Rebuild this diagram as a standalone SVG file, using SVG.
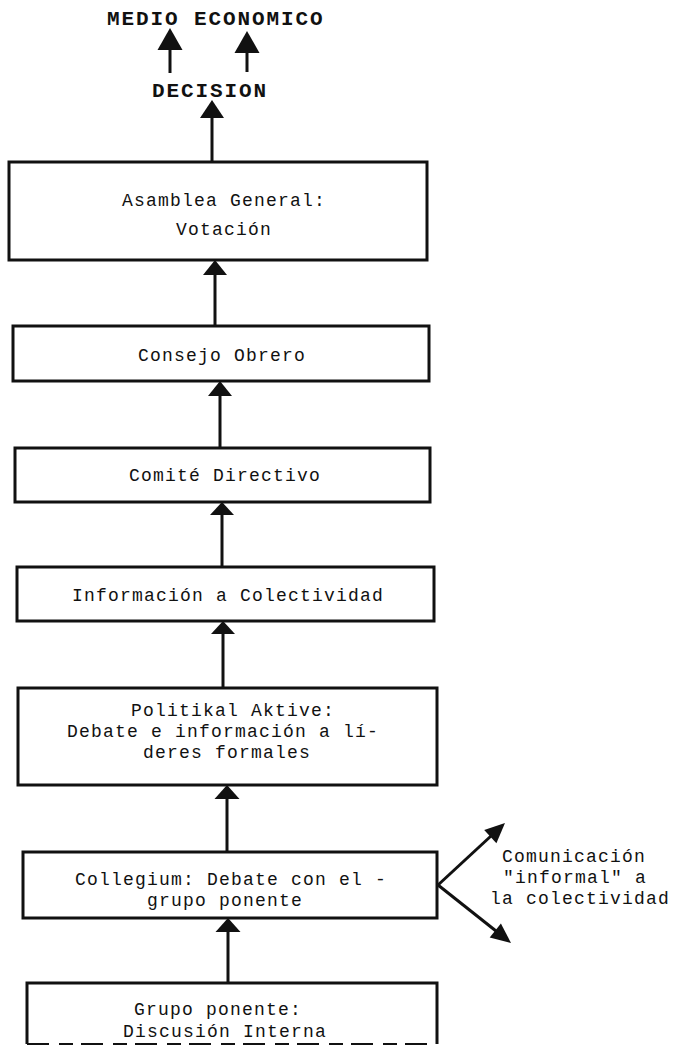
<svg xmlns="http://www.w3.org/2000/svg" width="675" height="1047" viewBox="0 0 675 1047">
<defs>
<style>
.box{fill:none;stroke:#111;stroke-width:3}
.t{font-family:"Liberation Mono","DejaVu Sans Mono",monospace;font-size:18px;letter-spacing:1.2px;fill:#111}
.m{text-anchor:middle}
.b{font-weight:bold;font-size:21px;letter-spacing:1.9px}
.sh{stroke:#111;stroke-width:3;fill:none}
.hd{fill:#111;stroke:none}
</style>
</defs>
<rect width="675" height="1047" fill="#fff"/>
<g id="medio"><text class="t b" x="107" y="25">MEDIO ECONOMICO</text></g>
<g id="decision"><text class="t b" x="152" y="97">DECISION</text></g>
<g id="asamblea">
<rect class="box" x="9" y="162" width="418" height="98"/>
<text class="t m" x="224" y="206">Asamblea General:</text>
<text class="t m" x="224" y="235">Votación</text>
</g>
<g id="consejo">
<rect class="box" x="13" y="326" width="416" height="55"/>
<text class="t m" x="222" y="361">Consejo Obrero</text>
</g>
<g id="comite">
<rect class="box" x="15" y="448" width="415" height="54"/>
<text class="t m" x="225" y="481">Comité Directivo</text>
</g>
<g id="informacion">
<rect class="box" x="17" y="567" width="417" height="54"/>
<text class="t m" x="228" y="601">Información a Colectividad</text>
</g>
<g id="politikal">
<rect class="box" x="18" y="688" width="419" height="97"/>
<text class="t m" x="233" y="716">Politikal Aktive:</text>
<text class="t m" x="223" y="737">Debate e información a lí-</text>
<text class="t m" x="227" y="758">deres formales</text>
</g>
<g id="collegium">
<rect class="box" x="23" y="852" width="414" height="66"/>
<text class="t m" x="231" y="885">Collegium: Debate con el -</text>
<text class="t m" x="225" y="906">grupo ponente</text>
</g>
<g id="grupo">
<path class="box" d="M27,1044 V983 H437 V1044"/>
<path d="M27,1044 H437" stroke="#111" stroke-width="2" stroke-dasharray="22,10,14,8" fill="none"/>
<text class="t m" x="218" y="1015">Grupo ponente:</text>
<text class="t m" x="225" y="1037">Discusión Interna</text>
</g>
<g id="comunicacion">
<text class="t" x="502" y="862">Comunicación</text>
<text class="t" x="503" y="883">"informal" a</text>
<text class="t" x="490" y="904">la colectividad</text>
</g>
<g id="connectors">
<line class="sh" x1="170" y1="73" x2="170" y2="48"/>
<polygon class="hd" points="170,28 157.5,50 182.5,50"/>
<line class="sh" x1="247" y1="72" x2="247" y2="50"/>
<polygon class="hd" points="247,31 234.5,53 259.5,53"/>
<line class="sh" x1="212" y1="162" x2="212" y2="116"/>
<polygon class="hd" points="212,100 200,118 224,118"/>
<line class="sh" x1="215" y1="326" x2="215" y2="273"/>
<polygon class="hd" points="215,260 203,275 227,275"/>
<line class="sh" x1="220" y1="448" x2="220" y2="394"/>
<polygon class="hd" points="220,381 208,396 232,396"/>
<line class="sh" x1="222" y1="567" x2="222" y2="513"/>
<polygon class="hd" points="222,502 210,515 234,515"/>
<line class="sh" x1="223" y1="688" x2="223" y2="632"/>
<polygon class="hd" points="223,621 211,634 235,634"/>
<line class="sh" x1="227" y1="852" x2="227" y2="796"/>
<polygon class="hd" points="227,785 214.5,799 239.5,799"/>
<line class="sh" x1="228" y1="983" x2="228" y2="930"/>
<polygon class="hd" points="228,918 215.5,932 240.5,932"/>
<line class="sh" x1="438" y1="885" x2="491" y2="836"/>
<polygon class="hd" points="505,823 496.4,843.2 484.2,830"/>
<line class="sh" x1="438" y1="885" x2="496" y2="931"/>
<polygon class="hd" points="511,943 489.7,937.6 500.9,923.6"/>
</g>
</svg>
